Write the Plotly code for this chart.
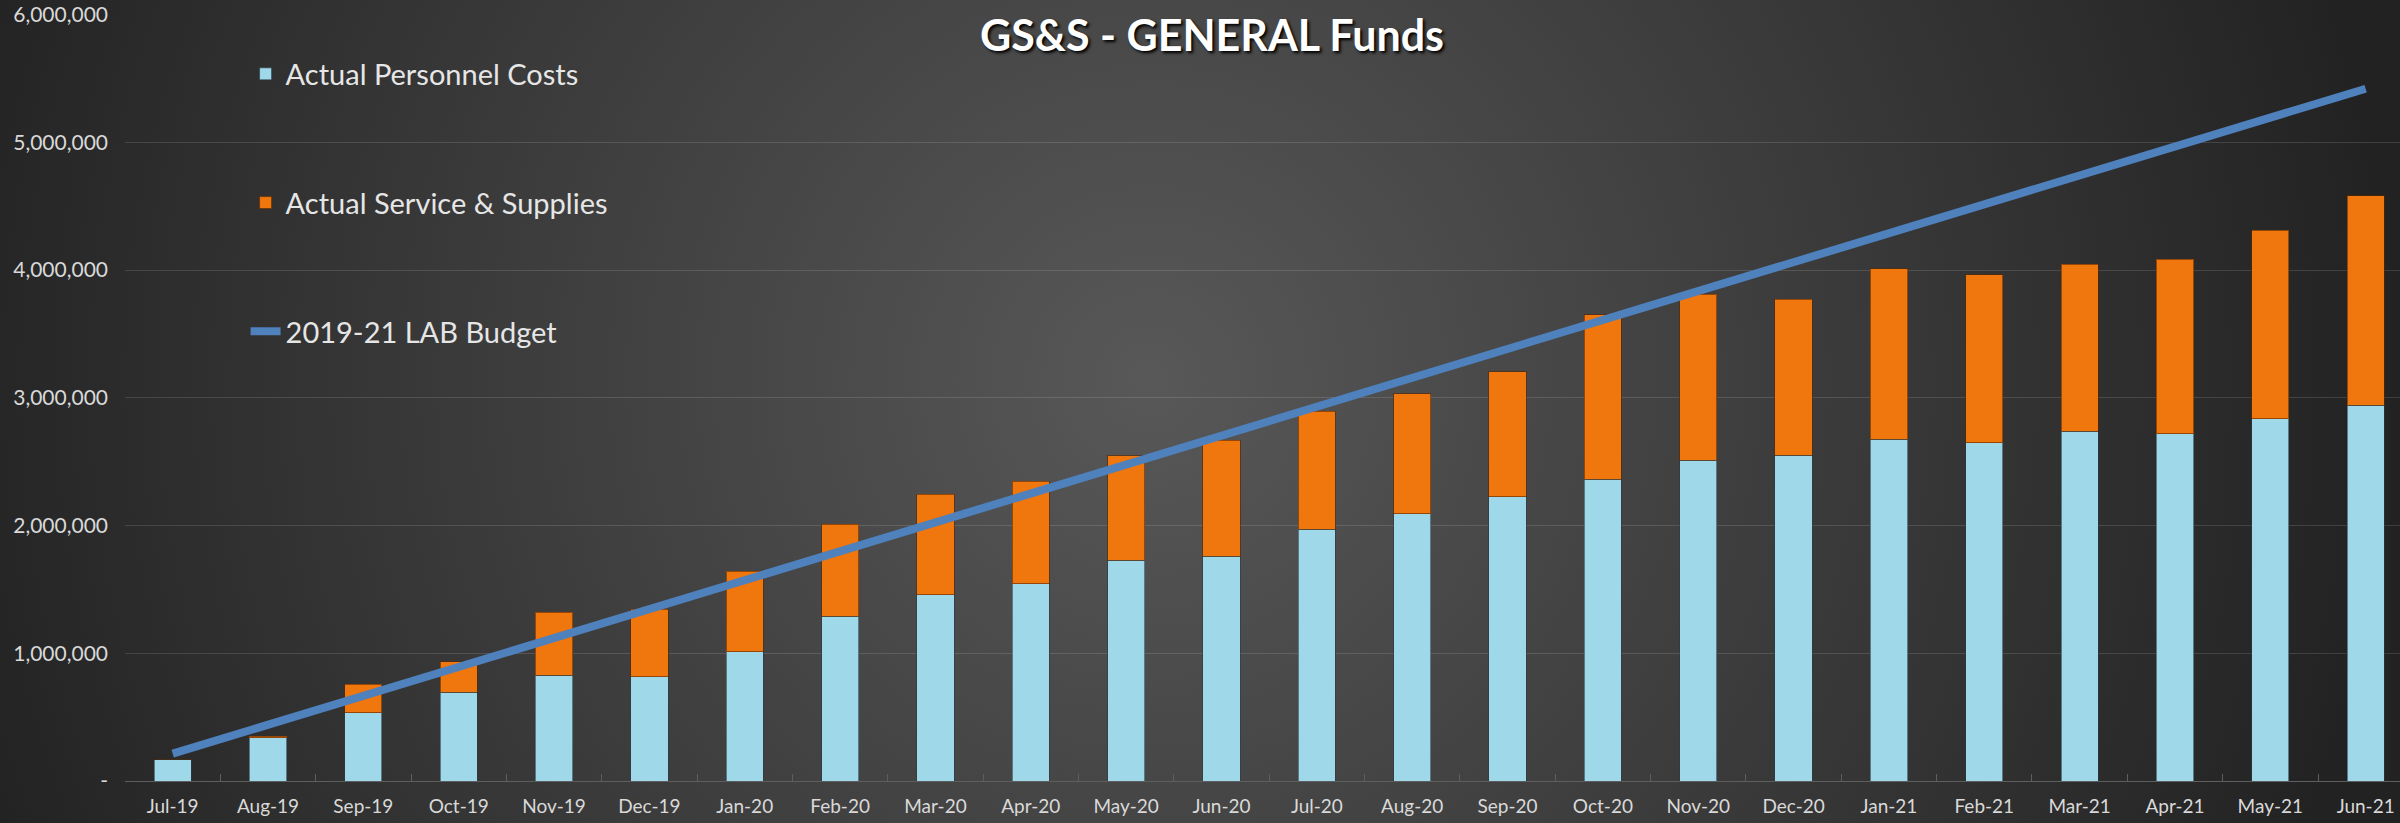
import base64
import plotly.graph_objects as go

months = ["Jul-19", "Aug-19", "Sep-19", "Oct-19", "Nov-19", "Dec-19",
          "Jan-20", "Feb-20", "Mar-20", "Apr-20", "May-20", "Jun-20",
          "Jul-20", "Aug-20", "Sep-20", "Oct-20", "Nov-20", "Dec-20",
          "Jan-21", "Feb-21", "Mar-21", "Apr-21", "May-21", "Jun-21"]

personnel = [167000, 339000, 533000, 695000, 828000, 815000,
             1013000, 1291000, 1460000, 1545000, 1727000, 1758000,
             1971000, 2091000, 2226000, 2361000, 2512000, 2551000,
             2675000, 2649000, 2738000, 2719000, 2836000, 2940000]

services = [0, 10000, 224000, 237000, 493000, 530000,
            629000, 719000, 787000, 800000, 818000, 910000,
            923000, 940000, 979000, 1288000, 1299000, 1221000,
            1336000, 1313000, 1309000, 1367000, 1476000, 1642000]

budget = [214000, 440000, 666000, 892000, 1118000, 1344000,
          1570000, 1796000, 2022000, 2248000, 2474000, 2700000,
          2926000, 3152000, 3378000, 3604000, 3830000, 4056000,
          4282000, 4508000, 4734000, 4960000, 5186000, 5420000]

ytick_vals = [0, 1000000, 2000000, 3000000, 4000000, 5000000, 6000000]
ytick_text = ["-", "1,000,000", "2,000,000", "3,000,000", "4,000,000", "5,000,000", "6,000,000"]

W, H = 2400, 823
ML, MR, MT, MB = 125, 0, 14, 42
PW, PH = W - ML - MR, H - MT - MB

svg = (
    f'<svg xmlns="http://www.w3.org/2000/svg" width="{W}" height="{H}">'
    '<defs><radialGradient id="g" gradientUnits="userSpaceOnUse" cx="1150" cy="380" r="1250">'
    '<stop offset="0" stop-color="#585858"/><stop offset="1" stop-color="#222222"/>'
    '</radialGradient></defs>'
    f'<rect width="{W}" height="{H}" fill="url(#g)"/></svg>'
)
bg_src = "data:image/svg+xml;base64," + base64.b64encode(svg.encode()).decode()

FONT = "Lato, 'Open Sans', sans-serif"

fig = go.Figure()
fig.add_trace(go.Bar(
    x=months, y=personnel, name="Actual Personnel Costs", legendgroup="a",
    marker=dict(color="#9fd8e8", line=dict(color="rgba(40,60,70,0.6)", width=1)),
    width=0.39,
))
fig.add_trace(go.Bar(
    x=months, y=services, name="Actual Service & Supplies", legendgroup="b",
    marker=dict(color="#f0760e", line=dict(color="rgba(90,40,0,0.6)", width=1)),
    width=0.39,
))
fig.add_trace(go.Scatter(
    x=months, y=budget, name="2019-21 LAB Budget", legendgroup="c",
    mode="lines", line=dict(color="#4f81bd", width=8),
))

fig.update_layout(
    width=W, height=H,
    margin=dict(l=ML, r=MR, t=MT, b=MB, autoexpand=False),
    barmode="stack",
    paper_bgcolor="#2e2e2e",
    plot_bgcolor="rgba(0,0,0,0)",
    font=dict(family=FONT, color="#d9d9d9", size=19),
    title=dict(
        text="<b>GS&S - GENERAL Funds</b>",
        x=0.505, xanchor="center", y=1 - 36 / H, yanchor="middle",
        font=dict(family=FONT, size=43, color="#ffffff", shadow="2px 2px 3px #000000"),
    ),
    legend=dict(
        x=0.053, xanchor="left", y=0.955, yanchor="top",
        font=dict(family=FONT, size=29, color="#e6e6e6"),
        bgcolor="rgba(0,0,0,0)", traceorder="grouped", tracegroupgap=88,
        itemwidth=30,
    ),
    xaxis=dict(
        range=[-0.5, 23.36], showgrid=False, automargin=False,
        showline=True, linecolor="#5e5e5e", linewidth=1,
        ticks="inside", tickson="boundaries", ticklen=7, tickcolor="#5e5e5e",
        tickfont=dict(size=19, color="#d9d9d9"), ticklabelstandoff=8,
    ),
    yaxis=dict(
        range=[0, 6005000], tickvals=ytick_vals, ticktext=ytick_text,
        showgrid=True, gridcolor="rgba(255,255,255,0.13)", gridwidth=1,
        zeroline=False, showline=False, automargin=False,
        tickfont=dict(size=21, color="#d9d9d9"), ticklabelstandoff=16,
        ticklabeloverflow="allow",
    ),
    images=[dict(
        source=bg_src, xref="paper", yref="paper",
        x=-ML / PW, y=1 + MT / PH, sizex=W / PW, sizey=H / PH,
        xanchor="left", yanchor="top", sizing="stretch", layer="below",
    )],
    showlegend=True,
)

fig.write_html(
    "out.html",
    config={"displayModeBar": False},
    post_script="document.body.style.margin='0';document.body.style.overflow='hidden';",
)
